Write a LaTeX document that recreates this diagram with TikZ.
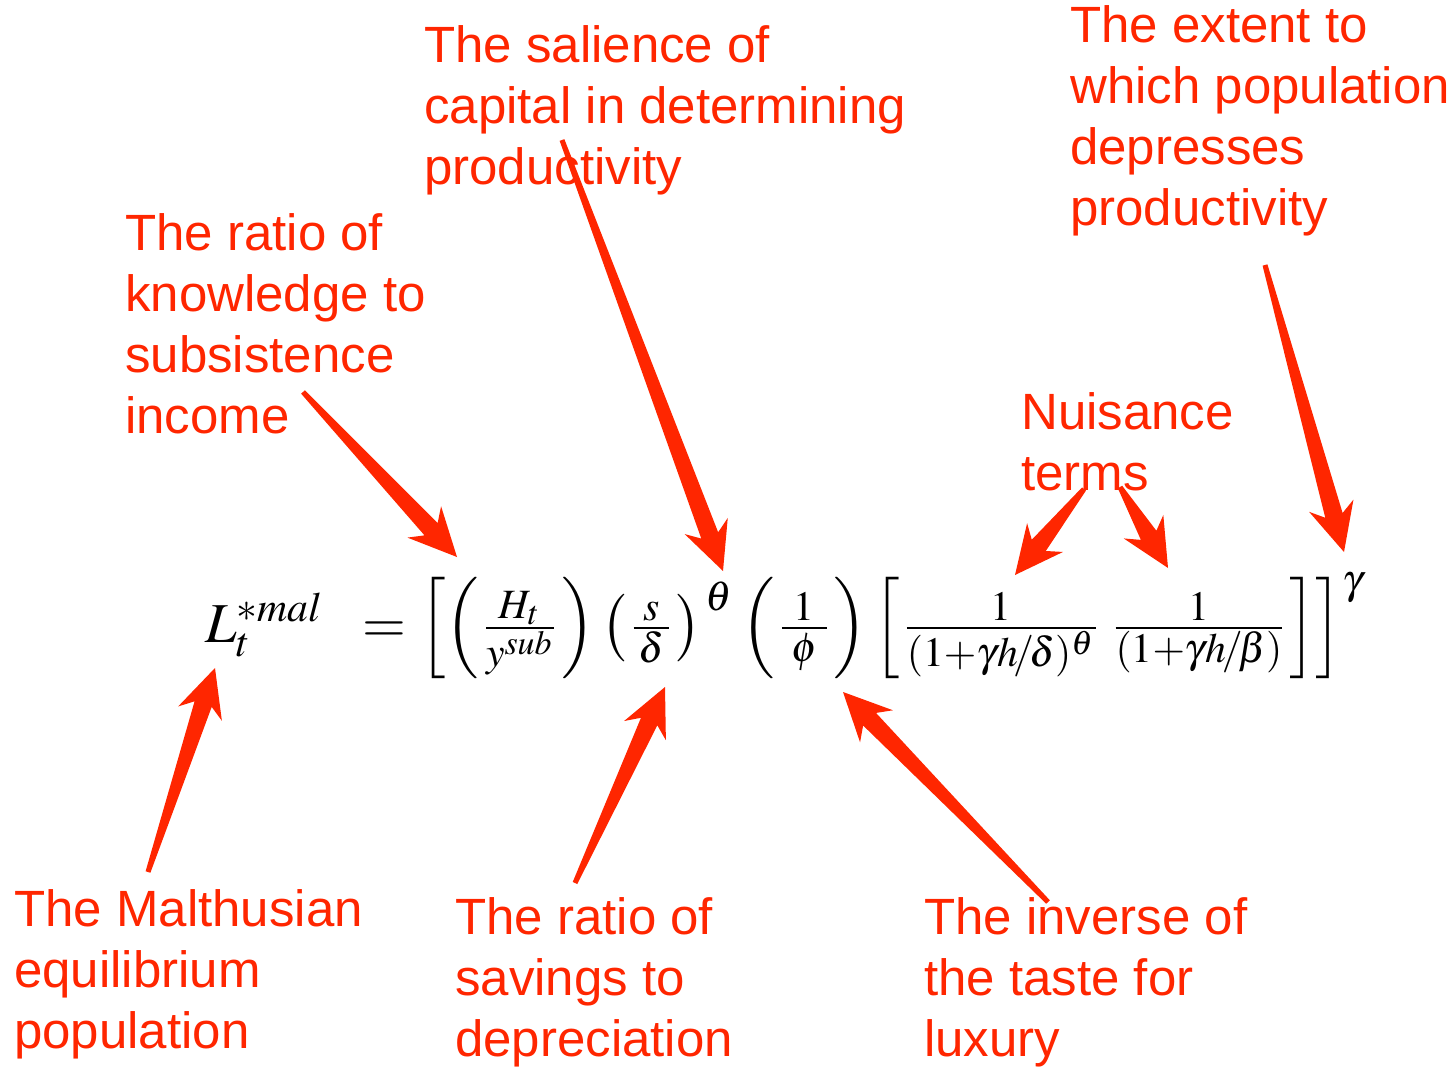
\documentclass[tikz,border=0pt]{standalone}
\usepackage{mathptmx}
\usepackage[no-math]{fontspec}
\newfontfamily\labelfont{Liberation Sans}
\usepackage{xcolor}
\usepackage{graphicx}
\usetikzlibrary{calc}
\definecolor{notered}{RGB}{255,38,0}

\newcommand{\callarrow}[2]{%
  \fill[notered] ($(#1)!2.5pt!90:(#2)$)
    -- ($(#2)!38pt!(#1)!9pt!90:(#2)$)
    -- ($(#2)!48pt!(#1)!23pt!90:(#2)$)
    -- (#2)
    -- ($(#2)!48pt!(#1)!23pt!-90:(#2)$)
    -- ($(#2)!38pt!(#1)!9pt!-90:(#2)$)
    -- ($(#1)!2.5pt!-90:(#2)$) -- cycle;}

\begin{document}
\begin{tikzpicture}[
    x=1pt, y=-1pt,
    notetext/.style={anchor=base west, inner sep=0pt, align=left, text=notered, font=\labelfont\fontsize{51}{61}\selectfont},
]
\fill[white] (0,0) rectangle (1456,1067);
\useasboundingbox (0,0) rectangle (1456,1067);

\node[anchor=west, inner sep=0pt] (eqn) at (205,626) {\resizebox{1160pt}{!}{$L_t^{*mal}\mkern8mu = \left[\left(\frac{H_t}{y^{sub}}\right)\left(\frac{\,s\,}{\,\delta\,}\right)^{\,\theta}\left(\frac{\;1\;}{\;\phi\;}\right)\left[\frac{1}{(1+\gamma h\!/\!\delta)^{\theta}}\,\frac{1}{(1+\gamma h\!/\!\beta)}\right]\right]^{\gamma}$}};

\node[notetext] (salience) at (424,185) {The salience of\\capital in determining\\productivity};
\node[notetext] (knowledge) at (125,433) {The ratio of\\knowledge to\\subsistence\\income};
\node[notetext] (extent) at (1070,226) {The extent to\\which population\\depresses\\productivity};
\node[notetext] (nuisance) at (1021,490) {Nuisance\\terms};
\node[notetext] (malthus) at (14,1048) {The Malthusian\\equilibrium\\population};
\node[notetext] (savings) at (455,1056) {The ratio of\\savings to\\depreciation};
\node[notetext] (inverse) at (924,1056) {The inverse of\\the taste for\\luxury};

\coordinate (knowledgeTail) at (303,392);
\coordinate (knowledgeTip) at (457,557);
\coordinate (salienceTail) at (562,140);
\coordinate (salienceTip) at (723,571);
\coordinate (extentTail) at (1265,265);
\coordinate (extentTip) at (1344,552);
\coordinate (nuisanceTailL) at (1084,489);
\coordinate (nuisanceTipL) at (1015,575);
\coordinate (nuisanceTailR) at (1120,487);
\coordinate (nuisanceTipR) at (1168,568);
\coordinate (malthusTail) at (148,872);
\coordinate (malthusTip) at (215,668);
\coordinate (savingsTail) at (575,883);
\coordinate (savingsTip) at (665,687);
\coordinate (inverseTail) at (1048,902);
\coordinate (inverseTip) at (843,692);

\callarrow{knowledgeTail}{knowledgeTip}
\callarrow{salienceTail}{salienceTip}
\callarrow{extentTail}{extentTip}
\callarrow{nuisanceTailL}{nuisanceTipL}
\callarrow{nuisanceTailR}{nuisanceTipR}
\callarrow{malthusTail}{malthusTip}
\callarrow{savingsTail}{savingsTip}
\callarrow{inverseTail}{inverseTip}
\end{tikzpicture}
\end{document}
